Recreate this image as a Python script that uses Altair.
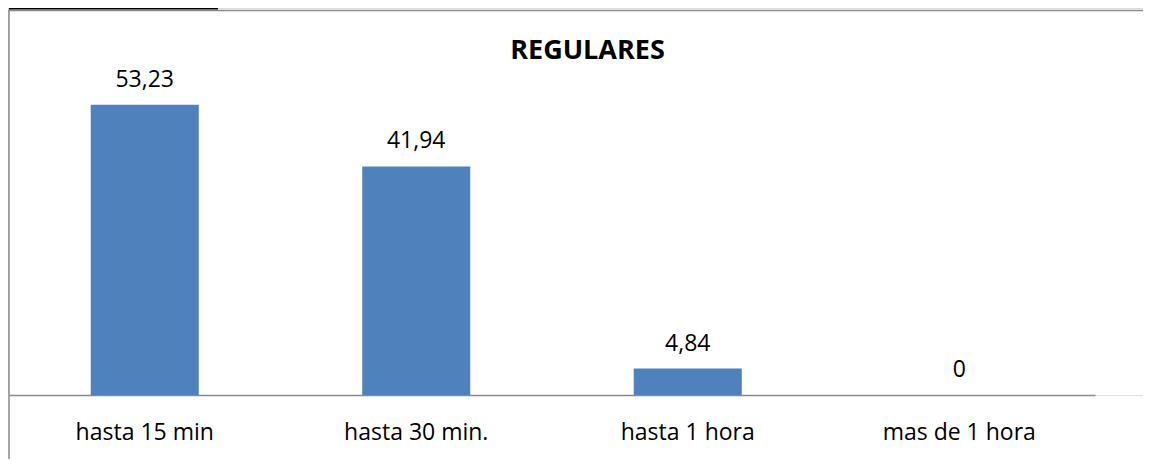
import altair as alt
import pandas as pd

categories = ["hasta 15 min", "hasta 30 min.", "hasta 1 hora", "mas de 1 hora"]
values = [53.23, 41.94, 4.84, 0]
title_text = "REGULARES"

labels = [f"{v:g}".replace(".", ",") for v in values]
df = pd.DataFrame({"cat": categories, "val": values, "lbl": labels})

FONT = "Open Sans"

xscale = alt.Scale(domain=categories, range=[1, 1087], paddingInner=0.602,
                   paddingOuter=0.301, round=False)
yscale = alt.Scale(domain=[0, 71], nice=False, zero=True)

base = alt.Chart(df)

bars = base.mark_bar(color="#4F81BD").encode(
    x=alt.X("cat:N", scale=xscale, sort=categories,
            axis=alt.Axis(title=None, ticks=False, grid=False, labelAngle=0,
                          domainColor="#8a8a8a", domainWidth=1.5,
                          labelFont=FONT, labelFontSize=23, labelColor="#000000",
                          labelBaseline="alphabetic", labelPadding=44)),
    y=alt.Y("val:Q", scale=yscale, axis=None),
)

texts = base.mark_text(font=FONT, fontSize=23, color="#000000", baseline="alphabetic", dy=-18).encode(
    x=alt.X("cat:N", scale=xscale, sort=categories),
    y=alt.Y("val:Q", scale=yscale),
    text="lbl:N",
)

one = alt.Chart(pd.DataFrame({"t": [title_text]}))

title = one.mark_text(font=FONT, fontSize=27, fontWeight="bold", color="#000000",
                      baseline="alphabetic", align="center").encode(
    x=alt.value(579.5), y=alt.value(51), text="t:N")

frame_left = one.mark_rule(color="#8a8a8a", strokeWidth=1.5).encode(
    x=alt.value(1), y=alt.value(1.8), y2=alt.value(470))
frame_top = one.mark_rule(color="#8a8a8a", strokeWidth=1.5).encode(
    x=alt.value(0.5), x2=alt.value(1160), y=alt.value(2.5))
black_box = one.mark_rect(fill="#ffffff", stroke="#000000", strokeWidth=2).encode(
    x=alt.value(2), x2=alt.value(209), y=alt.value(-20), y2=alt.value(0.5))

chart = alt.layer(frame_left, frame_top, black_box, bars, texts, title).properties(
    width=1135, height=387,
    padding={"left": 0, "top": 0, "right": 0, "bottom": 64},
    autosize=alt.AutoSizeParams(type="none"),
).configure_view(stroke=None).configure(background="#ffffff")

chart.save("out.html", embed_options={"renderer": "svg", "actions": False})
